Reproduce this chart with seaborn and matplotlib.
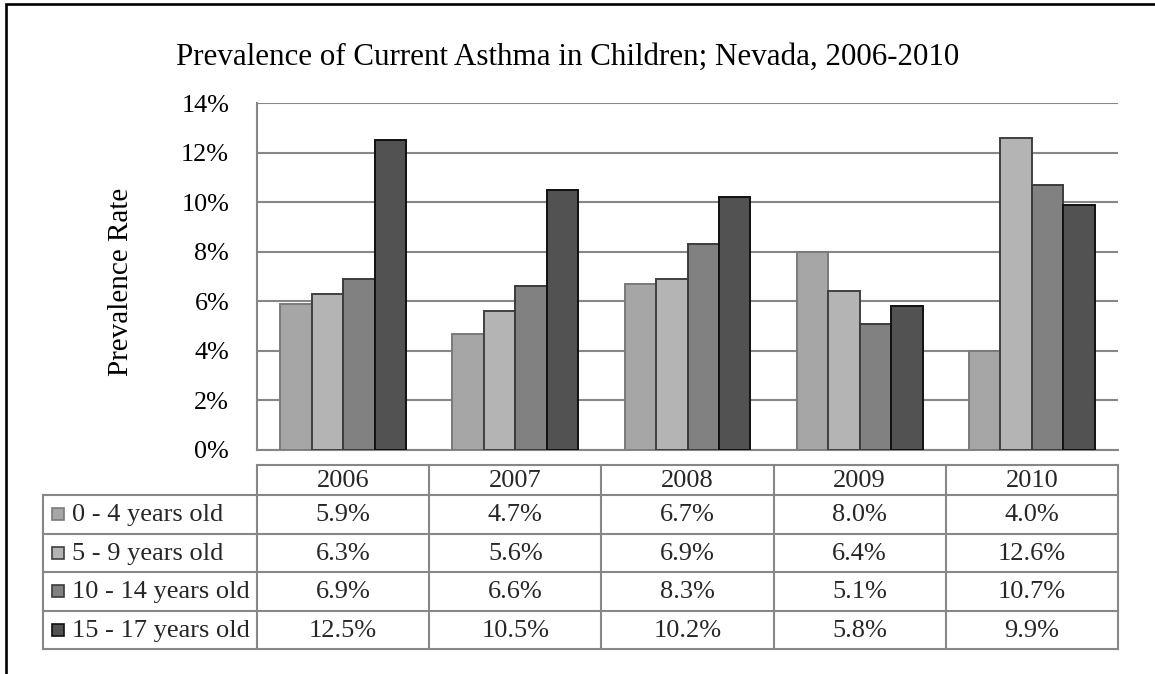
import matplotlib
matplotlib.use("Agg")
import matplotlib.pyplot as plt
import seaborn as sns
import pandas as pd
from matplotlib.patches import Rectangle

# Prevalence of current asthma in children, Nevada (percent)
years = ["2006", "2007", "2008", "2009", "2010"]
age_groups = ["0 - 4 years old", "5 - 9 years old", "10 - 14 years old", "15 - 17 years old"]
age_0_4 = [5.9, 4.7, 6.7, 8.0, 4.0]
age_5_9 = [6.3, 5.6, 6.9, 6.4, 12.6]
age_10_14 = [6.9, 6.6, 8.3, 5.1, 10.7]
age_15_17 = [12.5, 10.5, 10.2, 5.8, 9.9]
series = [age_0_4, age_5_9, age_10_14, age_15_17]

fill_colors = ["#a6a6a6", "#b4b4b4", "#818181", "#525252"]
edge_colors = ["#7a7a7a", "#404040", "#3c3c3c", "#111111"]
grid_color = "#878787"

rows = []
for grp, vals in zip(age_groups, series):
    for yr, v in zip(years, vals):
        rows.append({"year": yr, "age": grp, "rate": v})
df = pd.DataFrame(rows)

sns.set_theme(style="white")
plt.rcParams["font.family"] = ["Liberation Serif", "DejaVu Serif"]

W, H = 1155, 674
fig = plt.figure(figsize=(W / 100, H / 100), dpi=100)


def fx(px):
    return px / W


def fy(py):
    return 1 - py / H


# layout in pixels
left, right, top, base = 257, 1118, 103, 450
ax = fig.add_axes([fx(left), fy(base), fx(right) - fx(left), fy(top) - fy(base)])

sns.barplot(data=df, x="year", y="rate", hue="age", hue_order=age_groups,
            palette=fill_colors, saturation=1, width=0.73, legend=False,
            errorbar=None, ax=ax, linewidth=1.4, zorder=3)
for cont, ec in zip(ax.containers, edge_colors):
    for bar in cont:
        bar.set_edgecolor(ec)
        bar.set_linewidth(1.4)

ax.set_xlim(-0.5, 4.5)
ax.set_ylim(0, 14)
ax.set_yticks(range(0, 15, 2))
ax.set_yticklabels([f"{t}%" for t in range(0, 15, 2)])
ax.set_xticks([])
ax.set_xlabel("")
ax.set_ylabel("")
ax.yaxis.grid(True, color=grid_color, linewidth=1.5)
ax.set_axisbelow(True)
for s in ["top", "right"]:
    ax.spines[s].set_visible(False)
for s in ["left", "bottom"]:
    ax.spines[s].set_color(grid_color)
    ax.spines[s].set_linewidth(1.5)
ax.tick_params(axis="y", length=0, pad=20, labelsize=18.8, labelcolor="black")

fig.text(fx(121), fy(282), "Prevalence Rate", rotation=90, ha="center",
         va="center", fontsize=21, color="black")
fig.text(fx(568), fy(57), "Prevalence of Current Asthma in Children; Nevada, 2006-2010",
         ha="center", va="center", fontsize=22.3, color="black")

# data table below the chart
t_top, t_head, t_bot = 465, 495, 649
tab = fig.add_axes([fx(left), fy(t_bot), fx(right) - fx(left), fy(t_top) - fy(t_bot)])
tab.set_xlim(-0.5, 4.5)
tab.set_ylim(t_bot, t_top)
tab.axis("off")
col_w = (right - left) / 5.0


def px2x(px):
    return -0.5 + (px - left) / col_w


label_left = px2x(43)
row_h = (t_bot - t_head) / 4.0
row_edges = [t_head + i * row_h for i in range(5)]
lk = dict(color=grid_color, linewidth=1.5, clip_on=False, solid_capstyle="projecting")

tab.plot([-0.5, 4.5], [t_top, t_top], **lk)
for y in row_edges:
    tab.plot([label_left, 4.5], [y, y], **lk)
tab.plot([label_left, label_left], [t_head, t_bot], **lk)
for i in range(6):
    tab.plot([-0.5 + i, -0.5 + i], [t_top, t_bot], **lk)

fs = 19
for i, yr in enumerate(years):
    tab.text(i, (t_top + t_head) / 2 + 1, yr, ha="center", va="center", fontsize=fs)

sq = 12
for r, (grp, vals) in enumerate(zip(age_groups, series)):
    yc = (row_edges[r] + row_edges[r + 1]) / 2
    tab.add_patch(Rectangle((px2x(52), yc - sq / 2), sq / col_w, sq,
                            facecolor=fill_colors[r], edgecolor=edge_colors[r],
                            linewidth=1.2, clip_on=False))
    tab.text(px2x(72), yc + 1, grp, ha="left", va="center", fontsize=fs)
    for i, v in enumerate(vals):
        tab.text(i, yc + 1, f"{v:.1f}%", ha="center", va="center", fontsize=fs)

# outer frame
fig.patches.append(Rectangle((fx(6), -0.1), 1.2, fy(4) + 0.1, transform=fig.transFigure,
                             fill=False, edgecolor="black", linewidth=1.9))

fig.savefig("out.png", dpi=100)
